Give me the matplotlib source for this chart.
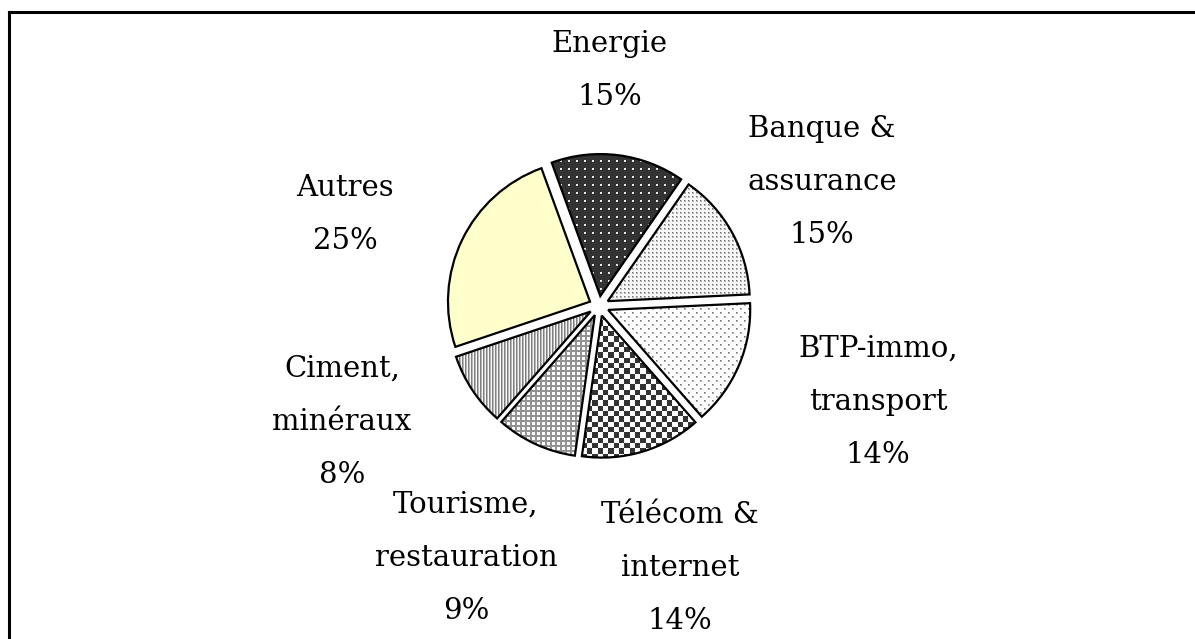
import numpy as np
import matplotlib
matplotlib.use("Agg")
import matplotlib.pyplot as plt

# ---- data ----
categories = ["Energie", "Banque &\nassurance", "BTP-immo,\ntransport",
              "Télécom &\ninternet", "Tourisme,\nrestauration", "Ciment,\nminéraux", "Autres"]
shares = [15.2, 14.6, 14.3, 13.7, 9.2, 8.4, 24.6]
pct_labels = ["15%", "15%", "14%", "14%", "9%", "8%", "25%"]

# ---- layout (pixel coordinates, y measured from top) ----
W, H = 1195, 639
label_x = [610, 822, 878, 680, 466, 342, 345]
label_first_baseline = [52, 137, 357, 523, 513, 377, 196]
line_step = 53

fig = plt.figure(figsize=(W / 100, H / 100), dpi=100)
ax = fig.add_axes([0, 0, 1, 1])

cx, cy, R = 599, H - 306, 142
explode_px = 10
wedges, _ = ax.pie(shares, startangle=110, counterclock=False, radius=R,
                   center=(cx, cy), explode=[explode_px] * len(shares),
                   wedgeprops=dict(facecolor="none", edgecolor="black",
                                   linewidth=1.6, zorder=3))
ax.set_xlim(0, W)
ax.set_ylim(0, H)
ax.set_axis_off()

# ---- textures ----
ii, jj = np.mgrid[0:H, 0:W]


def solid(v):
    return np.full((H, W), v, dtype=float)


def gray(a):
    return np.dstack([a, a, a])


def tex_energie():
    a = solid(0.2)
    a[(ii % 8 < 2) & (jj % 8 < 2)] = 0.85
    a[(ii % 8 == 0) & (jj % 8 == 0)] = 1.0
    return gray(a)


def tex_banque():
    a = solid(0.97)
    a[(ii % 4 < 2) & (jj % 4 < 2)] = 0.72
    a[(ii % 4 == 0) & (jj % 4 == 0)] = 0.45
    return gray(a)


def tex_btp():
    a = solid(1.0)
    m = ((ii % 8 < 2) & (jj % 8 < 2)) | (((ii + 4) % 8 < 2) & ((jj + 4) % 8 < 2))
    a[m] = 0.7
    a[((ii % 8 == 0) & (jj % 8 == 0)) | (((ii + 4) % 8 == 0) & ((jj + 4) % 8 == 0))] = 0.45
    return gray(a)


def tex_telecom():
    c = ((ii * 3 // 16) + (jj * 3 // 16)) % 2
    return gray(np.where(c == 0, 0.2, 1.0))


def tex_tourisme():
    a = solid(1.0)
    a[(ii % 5 < 2) | (jj % 5 < 2)] = 0.58
    return gray(a)


def tex_ciment():
    return gray(np.select([jj % 3 == 0, jj % 3 == 1], [0.5, 0.72], 0.97))


def tex_autres():
    return np.dstack([solid(1.0), solid(1.0), solid(0.8)])


textures = [tex_energie, tex_banque, tex_btp, tex_telecom, tex_tourisme, tex_ciment, tex_autres]

for w, tf in zip(wedges, textures):
    im = ax.imshow(tf(), extent=(0, W, 0, H), origin="upper",
                   interpolation="nearest", zorder=1, aspect="auto")
    im.set_clip_path(w)

ax.set_xlim(0, W)
ax.set_ylim(0, H)

# ---- labels ----
for cat, pct, x, b0 in zip(categories, pct_labels, label_x, label_first_baseline):
    lines = cat.split("\n") + [pct]
    for k, line in enumerate(lines):
        ax.text(x, H - (b0 + k * line_step), line, ha="center", va="baseline",
                fontsize=21, family="DejaVu Serif", color="black", zorder=5)

# ---- frame lines (top and left) ----
ax.plot([9, W], [H - 11.5, H - 11.5], color="black", lw=2.2, zorder=6,
        solid_capstyle="projecting", clip_on=False)
ax.plot([9, 9], [H - 11.5, 0], color="black", lw=2.2, zorder=6,
        solid_capstyle="projecting", clip_on=False)

fig.savefig("out.png", dpi=100, facecolor="white")
